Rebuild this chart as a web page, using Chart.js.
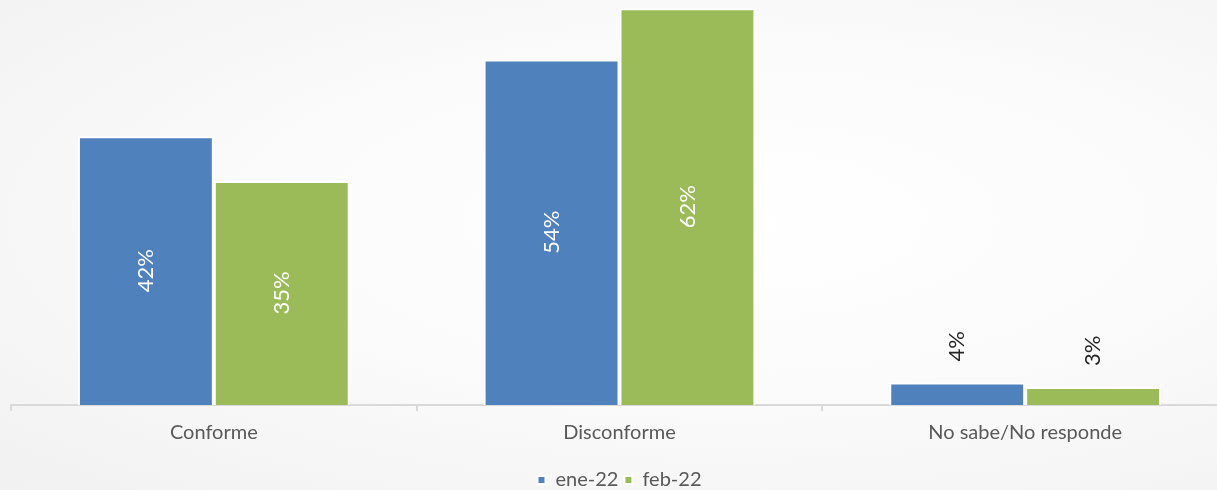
<!DOCTYPE html>
<html>
<head>
<meta charset="utf-8">
<script src="https://cdn.jsdelivr.net/npm/chart.js@4.4.1/dist/chart.umd.min.js"></script>
<style>
  html, body {
    margin: 0;
    padding: 0;
    overflow: hidden;
    width: 1217px;
    height: 490px;
    background: radial-gradient(ellipse at 60% 45%, #ffffff 0%, #fbfbfb 45%, #f1f1f1 100%);
  }
  #chart { display: block; }
</style>
</head>
<body>
<canvas id="chart" width="1240" height="500"></canvas>
<script>
"use strict";

// Data
const categories = ["Conforme", "Disconforme", "No sabe/No responde"];
const seriesNames = ["ene-22", "feb-22"];
const eneValues = [42, 54, 3.5];
const febValues = [35, 62, 2.8];

const blue = "#4F81BD";
const green = "#9BBB59";
const fontFamily = "Lato, 'Open Sans', sans-serif";

// Rotated value labels: white inside big bars, dark above small ones
const barLabels = {
  id: "barLabels",
  afterDatasetsDraw(chart) {
    const ctx = chart.ctx;
    chart.data.datasets.forEach((ds, i) => {
      const meta = chart.getDatasetMeta(i);
      meta.data.forEach((bar, j) => {
        const value = ds.data[j];
        const text = Math.round(value) + "%";
        ctx.save();
        ctx.font = "22px " + fontFamily;
        ctx.textBaseline = "middle";
        if (value > 10) {
          ctx.fillStyle = "#ffffff";
          ctx.translate(bar.x, (bar.y + bar.base) / 2);
          ctx.rotate(-Math.PI / 2);
          ctx.textAlign = "center";
        } else {
          ctx.fillStyle = "#262626";
          ctx.translate(bar.x, bar.y - 21);
          ctx.rotate(-Math.PI / 2);
          ctx.textAlign = "left";
        }
        ctx.fillText(text, 0, 0);
        ctx.restore();
      });
    });
  },
};

const ctx = document.getElementById("chart").getContext("2d");
const chart = new Chart(ctx, {
  type: "bar",
  data: {
    labels: categories,
    datasets: [
      {
        label: seriesNames[0],
        data: eneValues,
        backgroundColor: blue,
        borderColor: "#ffffff",
        borderWidth: 2,
      },
      {
        label: seriesNames[1],
        data: febValues,
        backgroundColor: green,
        borderColor: "#ffffff",
        borderWidth: 2,
      },
    ],
  },
  options: {
    responsive: false,
    animation: false,
    layout: {
      padding: { left: 11, right: 12, top: 5, bottom: 0 },
    },
    datasets: {
      bar: {
        barPercentage: 1,
        categoryPercentage: 0.67,
      },
    },
    scales: {
      x: {
        offset: true,
        afterFit(scale) {
          scale.height += 9; // room between category labels and legend
        },
        grid: {
          offset: true,
          display: true,
          drawOnChartArea: false,
          drawTicks: true,
          tickLength: 6,
          color: "#d9d9d9",
          lineWidth: 2,
        },
        border: { display: true, color: "#d9d9d9", width: 2 },
        ticks: {
          color: "#595959",
          padding: 10,
          font: { family: fontFamily, size: 20 },
        },
      },
      y: {
        display: false,
        min: 0,
        max: 62.5,
      },
    },
    plugins: {
      legend: {
        display: true,
        position: "bottom",
        labels: {
          boxWidth: 8,
          boxHeight: 8,
          padding: 6,
          color: "#595959",
          font: { family: fontFamily, size: 20 },
        },
      },
      tooltip: { enabled: false },
    },
  },
  plugins: [barLabels],
});
</script>
</body>
</html>
